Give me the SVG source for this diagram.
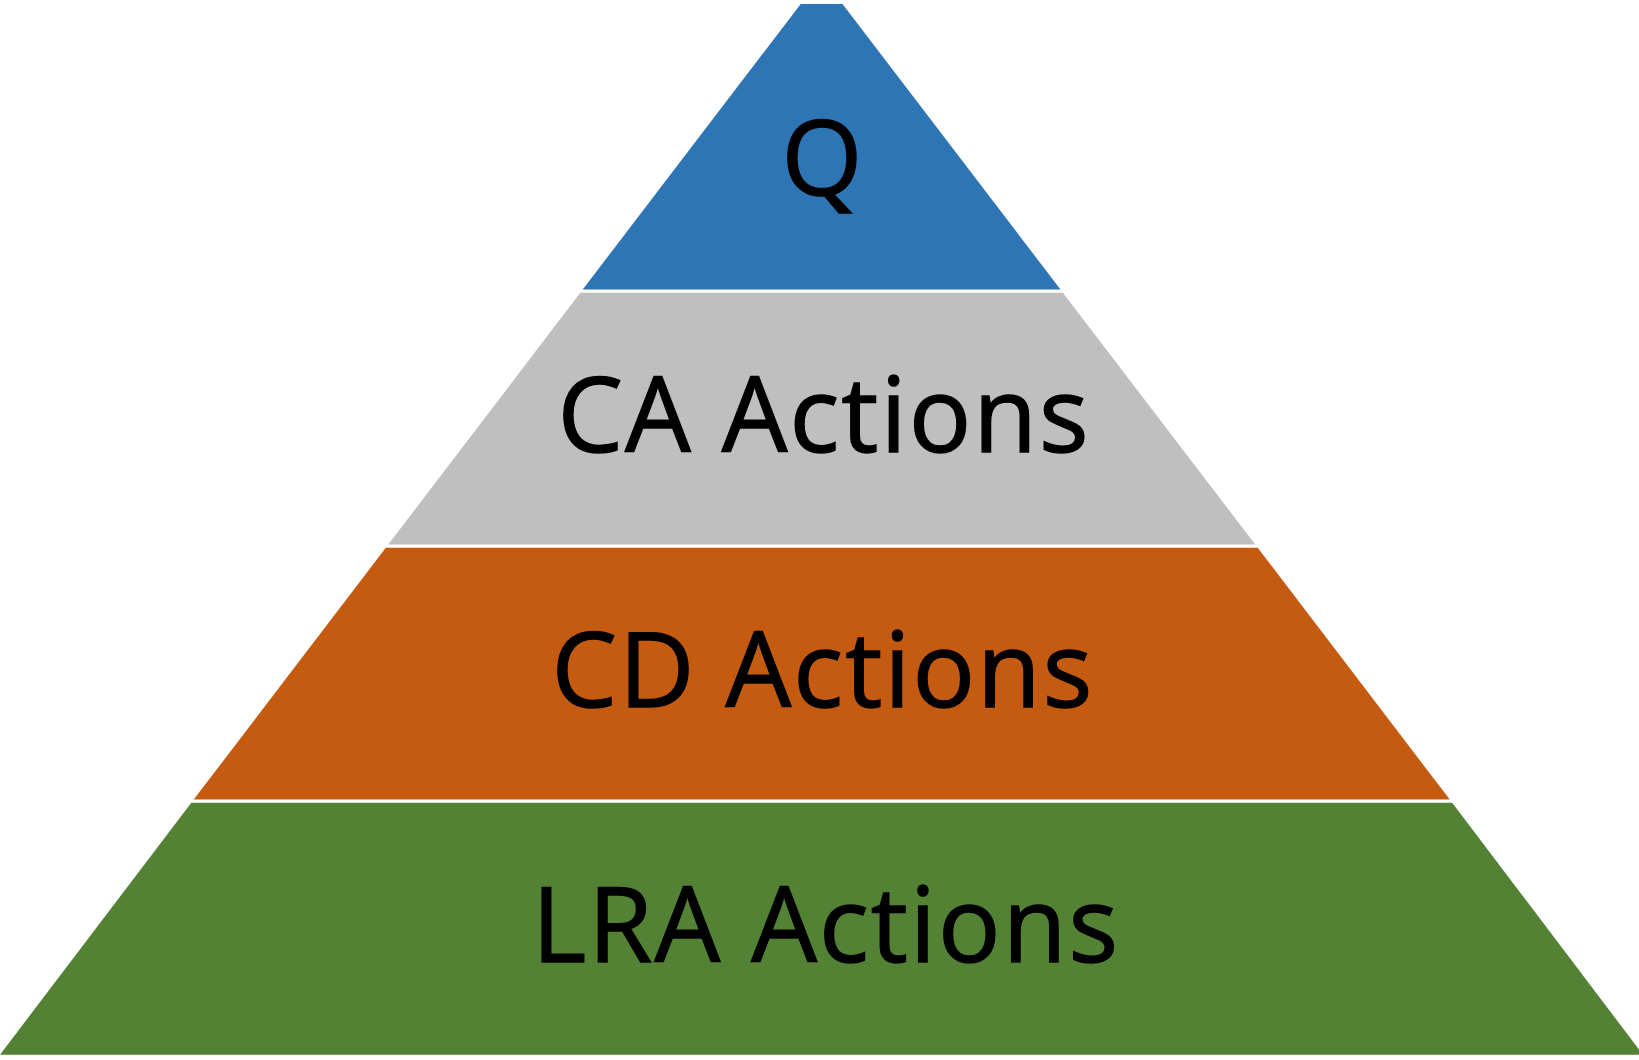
<svg xmlns="http://www.w3.org/2000/svg" width="1639" height="1060" viewBox="0 0 1639 1060">
<style>
.lbl{font-family:"Open Sans","Liberation Sans",sans-serif;font-size:104px;letter-spacing:2px;fill:#000;stroke:#000;stroke-width:1.4px;text-anchor:middle}
.layer{stroke:none}
</style>
<rect width="1639" height="1060" fill="#fff"/>
<g id="layer-q">
<polygon class="layer" fill="#2E75B6" points="800.7,4 842.5,4 1060.5,289.5 582.7,289.5"/>
<text class="lbl" x="823" y="195">Q</text>
</g>
<g id="layer-ca">
<polygon class="layer" fill="#BFBFBF" points="580.3,292.7 1062.9,292.7 1255.3,544.6 388.2,544.6"/>
<text class="lbl" x="824" y="452">CA Actions</text>
</g>
<g id="layer-cd">
<polygon class="layer" fill="#C55A11" points="385.8,547.7 1257.7,547.7 1449.8,799.6 193.7,799.6"/>
<text class="lbl" x="823" y="707">CD Actions</text>
</g>
<g id="layer-lra">
<polygon class="layer" fill="#548235" points="191.3,802.8 1452.2,802.8 1643,1054.7 0,1054.7"/>
<text class="lbl" x="826" y="962">LRA Actions</text>
</g>
<g id="connectors"/>
</svg>
